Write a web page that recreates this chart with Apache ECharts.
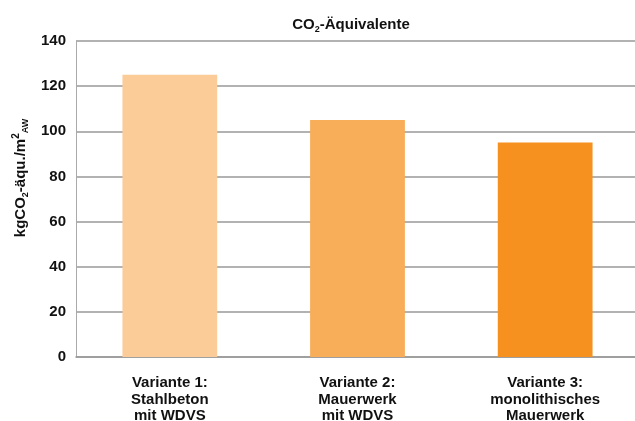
<!DOCTYPE html>
<html>
<head>
<meta charset="utf-8">
<script src="https://cdn.jsdelivr.net/npm/echarts@6/dist/echarts.min.js"></script>
<style>html,body{margin:0;padding:0;background:#fff}#c{width:635px;height:421px}</style>
</head>
<body>
<div id="c"></div>
<script>
const categories = ['Variante 1:\nStahlbeton\nmit WDVS', 'Variante 2:\nMauerwerk\nmit WDVS', 'Variante 3:\nmonolithisches\nMauerwerk'];
const values = [125, 105, 95];
const barColors = ['#FBCB98', '#F8AD58', '#F6901E'];
const yTicks = { min: 0, max: 140, interval: 20 };

const font = '"Liberation Sans", Arial, sans-serif';
const chart = echarts.init(document.getElementById('c'));
chart.setOption({
  animation: false,
  title: {
    text: 'CO{sub|2}-Äquivalente',
    left: 346, top: 11, textAlign: 'center',
    textStyle: {
      fontFamily: font, fontWeight: 'bold', fontSize: 15, color: '#111', lineHeight: 18,
      rich: { sub: { fontFamily: font, fontWeight: 'bold', fontSize: 9, color: '#111', lineHeight: 11, verticalAlign: 'bottom' } }
    }
  },
  grid: { left: 76, top: 41, width: 563, height: 316, containLabel: false, outerBoundsMode: 'none' },
  xAxis: {
    type: 'category',
    data: categories,
    axisLine: { show: true, lineStyle: { color: '#999', width: 1.5 } },
    axisTick: { show: false },
    axisLabel: { fontFamily: font, fontWeight: 'bold', fontSize: 15, color: '#111', lineHeight: 16.5, margin: 18 }
  },
  yAxis: {
    type: 'value',
    min: yTicks.min, max: yTicks.max, interval: yTicks.interval,
    name: 'kgCO{sub|2}-äqu./m{sup|2}{sub|AW}',
    nameLocation: 'middle', nameGap: 44, nameRotate: 90,
    nameTextStyle: {
      fontFamily: font, fontWeight: 'bold', fontSize: 15, color: '#111', lineHeight: 19,
      padding: [0, 0, 0, 42],
      rich: {
        sub: { fontFamily: font, fontWeight: 'bold', fontSize: 9, color: '#111', lineHeight: 11, verticalAlign: 'bottom' },
        sup: { fontFamily: font, fontWeight: 'bold', fontSize: 10, color: '#111', lineHeight: 11, verticalAlign: 'top' }
      }
    },
    axisLine: { show: true, lineStyle: { color: '#aaa', width: 1 } },
    axisTick: { show: false },
    splitLine: { show: true, lineStyle: { color: '#999', width: 1.5 } },
    axisLabel: { fontFamily: font, fontWeight: 'bold', fontSize: 15, color: '#111', margin: 10, padding: [3, 0, 0, 0] }
  },
  series: [{
    type: 'bar',
    barWidth: '50.5%',
    data: values.map((v, i) => ({ value: v, itemStyle: { color: barColors[i] } }))
  }]
});
</script>
</body>
</html>
